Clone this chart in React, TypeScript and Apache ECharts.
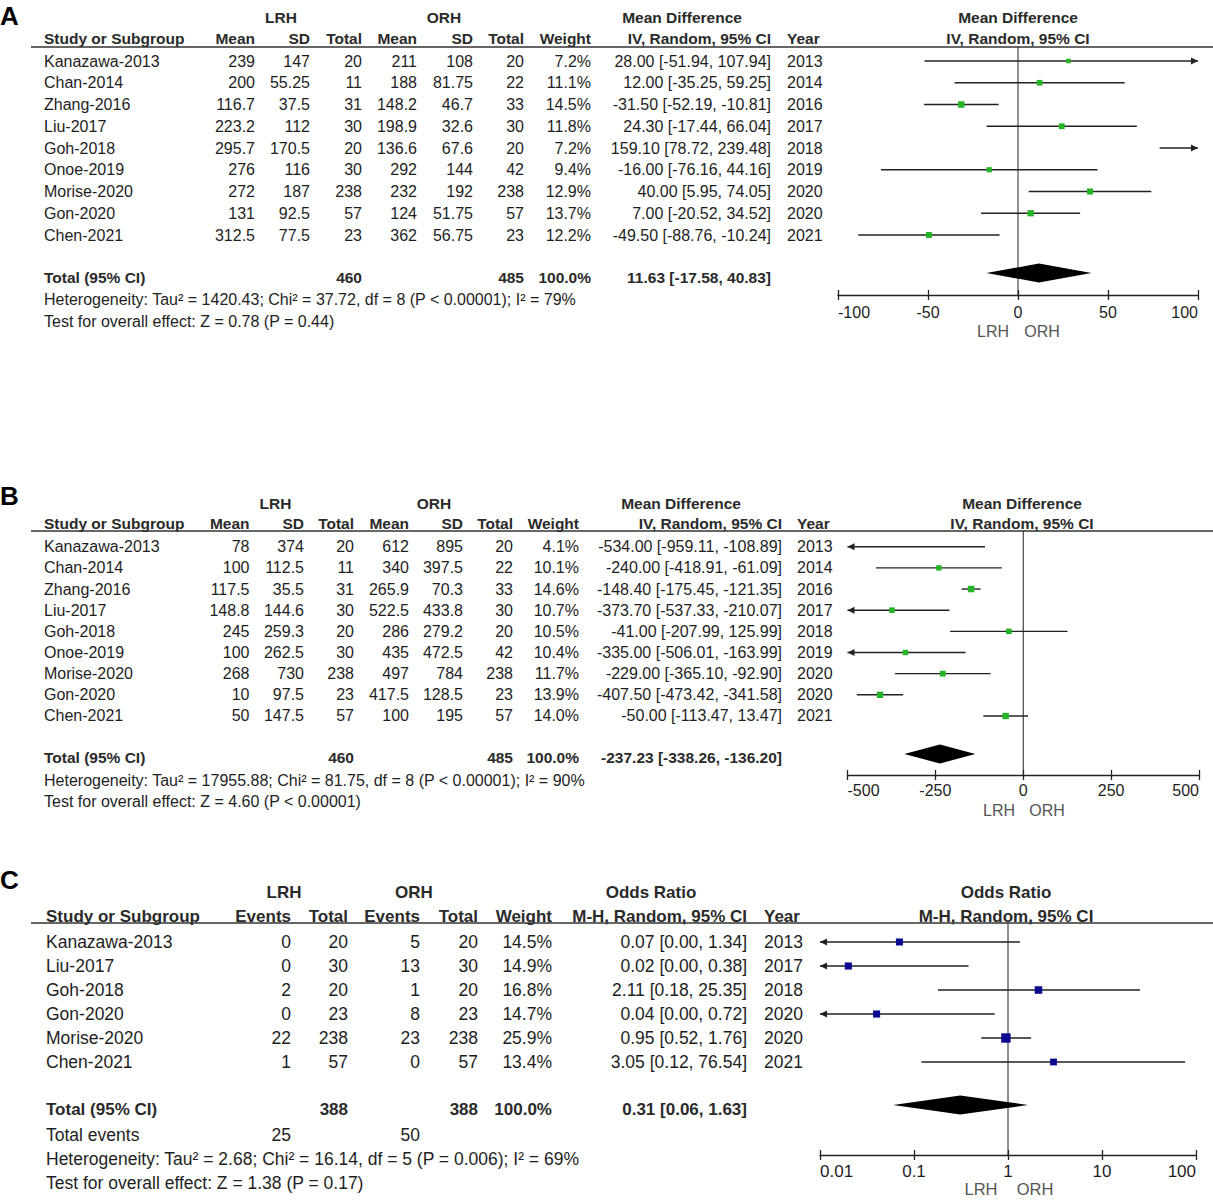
import React, { useEffect, useRef } from "react";
import * as echarts from "echarts";

// ---------------- Panel A ----------------
const studiesA = ["Kanazawa-2013", "Chan-2014", "Zhang-2016", "Liu-2017", "Goh-2018", "Onoe-2019", "Morise-2020", "Gon-2020", "Chen-2021"];
const lrhMeanA = [239, 200, 116.7, 223.2, 295.7, 276, 272, 131, 312.5];
const lrhSdA = [147, 55.25, 37.5, 112, 170.5, 116, 187, 92.5, 77.5];
const lrhTotalA = [20, 11, 31, 30, 20, 30, 238, 57, 23];
const orhMeanA = [211, 188, 148.2, 198.9, 136.6, 292, 232, 124, 362];
const orhSdA = [108, 81.75, 46.7, 32.6, 67.6, 144, 192, 51.75, 56.75];
const orhTotalA = [20, 22, 33, 30, 20, 42, 238, 57, 23];
const weightA = [7.2, 11.1, 14.5, 11.8, 7.2, 9.4, 12.9, 13.7, 12.2];
const estA = [28, 12, -31.5, 24.3, 159.1, -16, 40, 7, -49.5];
const lowA = [-51.94, -35.25, -52.19, -17.44, 78.72, -76.16, 5.95, -20.52, -88.76];
const highA = [107.94, 59.25, -10.81, 66.04, 239.48, 44.16, 74.05, 34.52, -10.24];
const yearsA = [2013, 2014, 2016, 2017, 2018, 2019, 2020, 2020, 2021];
const totalsA = [460, 485, 100.0]; // LRH total, ORH total, weight
const pooledA = [11.63, -17.58, 40.83];
const hetA = "Heterogeneity: Tau\u00b2 = 1420.43; Chi\u00b2 = 37.72, df = 8 (P < 0.00001); I\u00b2 = 79%";
const testA = "Test for overall effect: Z = 0.78 (P = 0.44)";
const ticksA = [-100, -50, 0, 50, 100];

// ---------------- Panel B ----------------
const studiesB = ["Kanazawa-2013", "Chan-2014", "Zhang-2016", "Liu-2017", "Goh-2018", "Onoe-2019", "Morise-2020", "Gon-2020", "Chen-2021"];
const lrhMeanB = [78, 100, 117.5, 148.8, 245, 100, 268, 10, 50];
const lrhSdB = [374, 112.5, 35.5, 144.6, 259.3, 262.5, 730, 97.5, 147.5];
const lrhTotalB = [20, 11, 31, 30, 20, 30, 238, 23, 57];
const orhMeanB = [612, 340, 265.9, 522.5, 286, 435, 497, 417.5, 100];
const orhSdB = [895, 397.5, 70.3, 433.8, 279.2, 472.5, 784, 128.5, 195];
const orhTotalB = [20, 22, 33, 30, 20, 42, 238, 23, 57];
const weightB = [4.1, 10.1, 14.6, 10.7, 10.5, 10.4, 11.7, 13.9, 14.0];
const estB = [-534, -240, -148.4, -373.7, -41, -335, -229, -407.5, -50];
const lowB = [-959.11, -418.91, -175.45, -537.33, -207.99, -506.01, -365.1, -473.42, -113.47];
const highB = [-108.89, -61.09, -121.35, -210.07, 125.99, -163.99, -92.9, -341.58, 13.47];
const yearsB = [2013, 2014, 2016, 2017, 2018, 2019, 2020, 2020, 2021];
const totalsB = [460, 485, 100.0];
const pooledB = [-237.23, -338.26, -136.2];
const hetB = "Heterogeneity: Tau\u00b2 = 17955.88; Chi\u00b2 = 81.75, df = 8 (P < 0.00001); I\u00b2 = 90%";
const testB = "Test for overall effect: Z = 4.60 (P < 0.00001)";
const ticksB = [-500, -250, 0, 250, 500];

// ---------------- Panel C ----------------
const studiesC = ["Kanazawa-2013", "Liu-2017", "Goh-2018", "Gon-2020", "Morise-2020", "Chen-2021"];
const lrhEventsC = [0, 0, 2, 0, 22, 1];
const lrhTotalC = [20, 30, 20, 23, 238, 57];
const orhEventsC = [5, 13, 1, 8, 23, 0];
const orhTotalC = [20, 30, 20, 23, 238, 57];
const weightC = [14.5, 14.9, 16.8, 14.7, 25.9, 13.4];
const estC = [0.07, 0.02, 2.11, 0.04, 0.95, 3.05];
const lowC = [0.0, 0.0, 0.18, 0.0, 0.52, 0.12];
const highC = [1.34, 0.38, 25.35, 0.72, 1.76, 76.54];
const yearsC = [2013, 2017, 2018, 2020, 2020, 2021];
const totalsC = [388, 388, 100.0];
const totalEventsC = [25, 50];
const pooledC = [0.31, 0.06, 1.63];
const hetC = "Heterogeneity: Tau\u00b2 = 2.68; Chi\u00b2 = 16.14, df = 5 (P = 0.006); I\u00b2 = 69%";
const testC = "Test for overall effect: Z = 1.38 (P = 0.17)";
const ticksC = [0.01, 0.1, 1, 10, 100];

// ---------------- Layout ----------------
const FONT = '"Liberation Sans", Arial, Helvetica, sans-serif';
const INK = "#1e1e1e";
const HEAD = "#2a2a2a";

const LA = {
  letter: "A", letterY: 16, h1: 17, h2: 38, line: 47, row0: 61, step: 21.75,
  totalY: 277, diamondY: 273, hetY: 299, testY: 321, axisY: 295,
  plotLeft: 838, plotRight: 1198, groupX: [281, 444], effX: 682, plotHdrX: 1018,
  cols: [255, 310, 362, 417, 473, 524, 591], ciRight: 771, yearLeft: 787,
  sideY: 331, sideX: [993, 1042], size: 16, bsize: 15.5, sideSize: 16, labelMargin: 9, textLeft: 44,
};
const LB = {
  letter: "B", letterY: 496, h1: 503, h2: 523, line: 531, row0: 546.7, step: 21.16,
  totalY: 757, diamondY: 754, hetY: 780, testY: 801, axisY: 775,
  plotLeft: 847.5, plotRight: 1199, groupX: [275.5, 434], effX: 681, plotHdrX: 1022,
  cols: [249.5, 304, 354, 409, 463, 513, 579], ciRight: 782, yearLeft: 797,
  sideY: 810, sideX: [999, 1047], size: 16, bsize: 15.5, sideSize: 16, labelMargin: 7, textLeft: 44,
};
const LC = {
  letter: "C", letterY: 880, h1: 892, h2: 916, line: 923, row0: 942, step: 24,
  totalY: 1109, diamondY: 1105, totalEventsY: 1135, hetY: 1159, testY: 1183, axisY: 1155,
  plotLeft: 820, plotRight: 1196, groupX: [284, 414], effX: 651, plotHdrX: 1006,
  cols: [291, 348, 420, 478, 552], ciRight: 747, yearLeft: 764,
  sideY: 1189, sideX: [981, 1035], size: 17.5, bsize: 17, sideSize: 16.5, labelMargin: 8, textLeft: 46,
};

const fmt2 = (v: number) => v.toFixed(2);
const ciText = (e: number, l: number, h: number) => `${fmt2(e)} [${fmt2(l)}, ${fmt2(h)}]`;
const pct = (v: number) => v.toFixed(1) + "%";

function txt(text: string, x: number, y: number, size: number, bold = false, align = "left", color = INK) {
  return {
    type: "text",
    x,
    y,
    silent: true,
    style: {
      text,
      fill: color,
      font: `${bold ? "bold " : ""}${size}px ${FONT}`,
      align,
      textAlign: align,
      verticalAlign: "middle",
      textVerticalAlign: "middle",
    },
  };
}

function hline(y: number) {
  return {
    type: "line",
    silent: true,
    shape: { x1: 31, y1: y, x2: 1213, y2: y },
    style: { stroke: "#333", lineWidth: 1.5 },
  };
}

function panelGraphics(
  L: any,
  colHeaders: string[],
  colValues: string[][],
  studies: string[],
  cis: string[],
  years: number[],
  totalCells: { col: number; text: string }[],
  pooledText: string,
  effHdr: string,
  effSub: string,
  het: string,
  test: string
) {
  const els: any[] = [];
  els.push(txt(L.letter, 0, L.letterY, 26, true, "left", "#000"));
  // header row 1
  els.push(txt("LRH", L.groupX[0], L.h1, L.bsize, true, "center", HEAD));
  els.push(txt("ORH", L.groupX[1], L.h1, L.bsize, true, "center", HEAD));
  els.push(txt(effHdr, L.effX, L.h1, L.bsize, true, "center", HEAD));
  els.push(txt(effHdr, L.plotHdrX, L.h1, L.bsize, true, "center", HEAD));
  // header row 2
  els.push(txt("Study or Subgroup", L.textLeft, L.h2, L.bsize, true, "left", HEAD));
  colHeaders.forEach((h, c) => els.push(txt(h, L.cols[c], L.h2, L.bsize, true, "right", HEAD)));
  els.push(txt(effSub, L.ciRight, L.h2, L.bsize, true, "right", HEAD));
  els.push(txt("Year", L.yearLeft, L.h2, L.bsize, true, "left", HEAD));
  els.push(txt(effSub, L.plotHdrX, L.h2, L.bsize, true, "center", HEAD));
  els.push(hline(L.line));
  // study rows
  studies.forEach((s, i) => {
    const y = L.row0 + i * L.step;
    els.push(txt(s, L.textLeft, y, L.size));
    colValues.forEach((vals, c) => els.push(txt(vals[i], L.cols[c], y, L.size, false, "right")));
    els.push(txt(cis[i], L.ciRight, y, L.size, false, "right"));
    els.push(txt(String(years[i]), L.yearLeft, y, L.size));
  });
  // total row
  els.push(txt("Total (95% CI)", L.textLeft, L.totalY, L.bsize, true, "left", HEAD));
  totalCells.forEach((t) => els.push(txt(t.text, L.cols[t.col], L.totalY, L.bsize, true, "right", HEAD)));
  els.push(txt(pooledText, L.ciRight, L.totalY, L.bsize, true, "right", HEAD));
  els.push(txt(het, L.textLeft, L.hetY, L.size));
  els.push(txt(test, L.textLeft, L.testY, L.size));
  // favours labels
  els.push(txt("LRH", L.sideX[0], L.sideY, L.sideSize, false, "center", "#555"));
  els.push(txt("ORH", L.sideX[1], L.sideY, L.sideSize, false, "center", "#555"));
  return els;
}

function forestSeries(
  gi: number, L: any, ticks: number[], est: number[], lo: number[], hi: number[], w: number[],
  pooled: number[], color: string, sq: number
) {
  const data: number[][] = est.map((e, i) => [e, lo[i], hi[i], L.row0 + i * L.step, w[i], 0]);
  data.push([pooled[0], pooled[1], pooled[2], L.diamondY, 0, 1]);
  const xMin = ticks[0];
  const xMax = ticks[ticks.length - 1];
  return {
    type: "custom",
    xAxisIndex: gi * 2,
    yAxisIndex: gi,
    encode: { x: 0, y: 3 },
    silent: true,
    clip: false,
    z: 5,
    data,
    renderItem: (params: any, api: any) => {
      const e = api.value(0), l = api.value(1), h = api.value(2), y = api.value(3);
      const wt = api.value(4), kind = api.value(5);
      const cs = params.coordSys;
      const left = cs.x, right = cs.x + cs.width;
      const py = api.coord([xMax, y])[1];
      const X = (v: number) => (v <= xMin ? left : v >= xMax ? right : api.coord([v, y])[0]);
      if (kind === 1) {
        const hh = 9.5;
        return {
          type: "polygon",
          shape: { points: [[X(l), py], [X(e), py - hh], [X(h), py], [X(e), py + hh]] },
          style: { fill: "#000" },
        };
      }
      const children: any[] = [];
      children.push({
        type: "line",
        shape: { x1: X(l), y1: py, x2: X(h), y2: py },
        style: { stroke: "#222", lineWidth: 1.4 },
      });
      if (l < xMin) {
        children.push({
          type: "polygon",
          shape: { points: [[left, py], [left + 7, py - 3.5], [left + 7, py + 3.5]] },
          style: { fill: "#222" },
        });
      }
      if (h > xMax) {
        children.push({
          type: "polygon",
          shape: { points: [[right, py], [right - 7, py - 3.5], [right - 7, py + 3.5]] },
          style: { fill: "#222" },
        });
      }
      if (e >= xMin && e <= xMax) {
        const s = sq * Math.sqrt(wt);
        const cx = X(e);
        children.push({
          type: "rect",
          shape: { x: cx - s / 2, y: py - s / 2, width: s, height: s },
          style: { fill: color },
        });
      }
      return { type: "group", children };
    },
  };
}

function axesFor(gi: number, L: any, ticks: number[], isLog: boolean, fontSize: number) {
  const base: any = {
    gridIndex: gi,
    type: isLog ? "log" : "value",
    min: ticks[0],
    max: ticks[ticks.length - 1],
    position: "bottom",
    splitLine: { show: false },
  };
  if (isLog) base.logBase = 10;
  const main = {
    ...base,
    axisLine: { show: true, onZero: false, lineStyle: { color: "#222", width: 1.3 } },
    axisTick: { show: true, length: 5, lineStyle: { color: "#222", width: 1.3 }, customValues: ticks },
    axisLabel: {
      show: true,
      customValues: ticks,
      fontSize,
      color: INK,
      fontFamily: FONT,
      margin: L.labelMargin,
      alignMinLabel: "left",
      alignMaxLabel: "right",
      formatter: (v: number) => String(Number(Number(v).toPrecision(6))),
    },
  };
  const inner = {
    ...base,
    axisLine: { show: false, onZero: false },
    axisTick: { show: true, inside: true, length: 5, lineStyle: { color: "#222", width: 1.3 }, customValues: ticks },
    axisLabel: { show: false },
  };
  return [main, inner];
}

function refLine(gi: number, L: any, ref: number) {
  return {
    type: "line",
    xAxisIndex: gi * 2,
    yAxisIndex: gi,
    data: [[ref, L.line], [ref, L.axisY]],
    symbol: "none",
    silent: true,
    z: 1,
    lineStyle: { color: "#222", width: 1 },
  };
}

function buildOption() {
  const gA = panelGraphics(
    LA,
    ["Mean", "SD", "Total", "Mean", "SD", "Total", "Weight"],
    [lrhMeanA, lrhSdA, lrhTotalA, orhMeanA, orhSdA, orhTotalA].map((a) => a.map(String)).concat([weightA.map(pct)]),
    studiesA,
    estA.map((e, i) => ciText(e, lowA[i], highA[i])),
    yearsA,
    [{ col: 2, text: String(totalsA[0]) }, { col: 5, text: String(totalsA[1]) }, { col: 6, text: pct(totalsA[2]) }],
    ciText(pooledA[0], pooledA[1], pooledA[2]),
    "Mean Difference",
    "IV, Random, 95% CI",
    hetA,
    testA
  );
  const gB = panelGraphics(
    LB,
    ["Mean", "SD", "Total", "Mean", "SD", "Total", "Weight"],
    [lrhMeanB, lrhSdB, lrhTotalB, orhMeanB, orhSdB, orhTotalB].map((a) => a.map(String)).concat([weightB.map(pct)]),
    studiesB,
    estB.map((e, i) => ciText(e, lowB[i], highB[i])),
    yearsB,
    [{ col: 2, text: String(totalsB[0]) }, { col: 5, text: String(totalsB[1]) }, { col: 6, text: pct(totalsB[2]) }],
    ciText(pooledB[0], pooledB[1], pooledB[2]),
    "Mean Difference",
    "IV, Random, 95% CI",
    hetB,
    testB
  );
  const gC = panelGraphics(
    LC,
    ["Events", "Total", "Events", "Total", "Weight"],
    [lrhEventsC, lrhTotalC, orhEventsC, orhTotalC].map((a) => a.map(String)).concat([weightC.map(pct)]),
    studiesC,
    estC.map((e, i) => ciText(e, lowC[i], highC[i])),
    yearsC,
    [{ col: 1, text: String(totalsC[0]) }, { col: 3, text: String(totalsC[1]) }, { col: 4, text: pct(totalsC[2]) }],
    ciText(pooledC[0], pooledC[1], pooledC[2]),
    "Odds Ratio",
    "M-H, Random, 95% CI",
    hetC,
    testC
  );
  gC.push(txt("Total events", LC.textLeft, LC.totalEventsY, LC.size));
  gC.push(txt(String(totalEventsC[0]), LC.cols[0], LC.totalEventsY, LC.size, false, "right"));
  gC.push(txt(String(totalEventsC[1]), LC.cols[2], LC.totalEventsY, LC.size, false, "right"));

  const grids = [LA, LB, LC].map((L) => ({
    left: L.plotLeft,
    width: L.plotRight - L.plotLeft,
    top: L.line,
    height: L.axisY - L.line,
    containLabel: false,
  }));

  const xAxis = [
    ...axesFor(0, LA, ticksA, false, 16),
    ...axesFor(1, LB, ticksB, false, 16),
    ...axesFor(2, LC, ticksC, true, 17),
  ];
  const yAxis = [LA, LB, LC].map((L, gi) => ({
    gridIndex: gi,
    type: "value",
    min: L.line,
    max: L.axisY,
    inverse: true,
    show: false,
  }));

  return {
    animation: false,
    backgroundColor: "#fff",
    textStyle: { fontFamily: FONT },
    grid: grids,
    xAxis,
    yAxis,
    series: [
      refLine(0, LA, 0),
      refLine(1, LB, 0),
      refLine(2, LC, 1),
      forestSeries(0, LA, ticksA, estA, lowA, highA, weightA, pooledA, "#25b425", 1.7),
      forestSeries(1, LB, ticksB, estB, lowB, highB, weightB, pooledB, "#25b425", 1.7),
      forestSeries(2, LC, ticksC, estC, lowC, highC, weightC, pooledC, "#0a0a90", 1.85),
    ],
    graphic: { elements: [...gA, ...gB, ...gC] },
  };
}

export default function App() {
  const ref = useRef<HTMLDivElement>(null);
  useEffect(() => {
    if (!ref.current) return;
    const chart = echarts.init(ref.current, undefined, { renderer: "svg" });
    chart.setOption(buildOption() as any);
    return () => chart.dispose();
  }, []);
  return (
    <div
      ref={ref}
      style={{ position: "absolute", left: 0, top: 0, width: 1213, height: 1200, background: "#fff" }}
    />
  );
}
